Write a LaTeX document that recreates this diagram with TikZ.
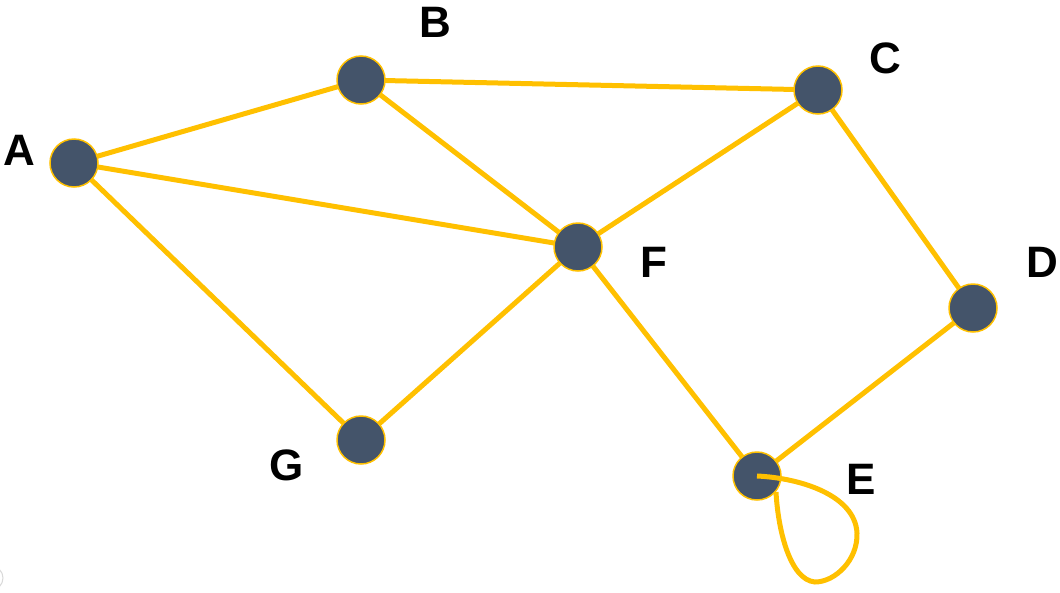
\documentclass[tikz,border=0pt]{standalone}
\usepackage{fontspec}
\setmainfont{Liberation Sans}
\definecolor{edgeyel}{HTML}{FFC000}
\definecolor{nodefill}{HTML}{44546A}
\begin{document}
\begin{tikzpicture}[x=1pt,y=-1pt,
  vert/.style={circle,fill=nodefill,draw=edgeyel,line width=1.5pt,minimum size=48pt,inner sep=0pt},
  edge/.style={draw=edgeyel,line width=5pt},
  lbl/.style={font=\fontsize{44}{44}\selectfont\bfseries,inner sep=0pt}]
\useasboundingbox (0,0) rectangle (1060,592);
\coordinate (A) at (74,163);
\coordinate (B) at (361,80);
\coordinate (C) at (818,90);
\coordinate (D) at (973,308);
\coordinate (E) at (757,476);
\coordinate (F) at (578,247);
\coordinate (G) at (361,440);
\draw[edge] (A) -- (B);
\draw[edge] (A) -- (F);
\draw[edge] (A) -- (G);
\draw[edge] (B) -- (C);
\draw[edge] (B) -- (F);
\draw[edge] (C) -- (F);
\draw[edge] (C) -- (D);
\draw[edge] (D) -- (E);
\draw[edge] (F) -- (E);
\draw[edge] (F) -- (G);
\node[vert] (nA) at (A) {};
\node[vert] (nB) at (B) {};
\node[vert] (nC) at (C) {};
\node[vert] (nD) at (D) {};
\node[vert] (nE) at (E) {};
\node[vert] (nF) at (F) {};
\node[vert] (nG) at (G) {};
\draw[edge,line cap=butt] (nE.center) .. controls (800,478) and (855,495) .. (857,533)
  .. controls (858,560) and (835,582) .. (815,582)
  .. controls (790,580) and (778,530) .. (776,492);
\node[lbl] (lA) at (19,150) {A};
\node[lbl] (lB) at (435,22) {B};
\node[lbl] (lC) at (885,58) {C};
\node[lbl] (lD) at (1042,262) {D};
\node[lbl] (lE) at (861,479) {E};
\node[lbl] (lF) at (654,262) {F};
\node[lbl] (lG) at (287,465) {G};
\node[circle,draw=black!15,line width=1pt,minimum size=24pt,inner sep=0pt] (corner) at (-9,578) {};
\end{tikzpicture}
\end{document}
